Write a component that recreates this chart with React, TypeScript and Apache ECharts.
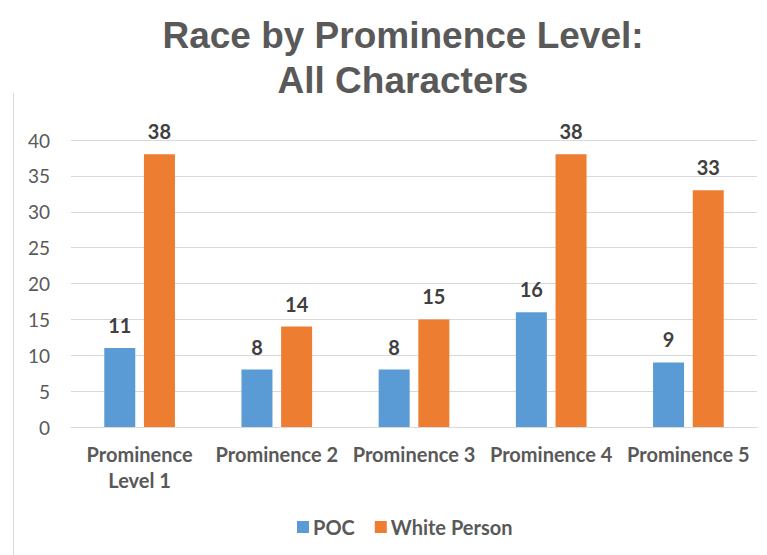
import React, { useEffect, useRef } from "react";
import * as echarts from "echarts";

const categories = ["Prominence\nLevel 1", "Prominence 2", "Prominence 3", "Prominence 4", "Prominence 5"];
const pocValues = [11, 8, 8, 16, 9];
const whiteValues = [38, 14, 15, 38, 33];
const seriesNames = ["POC", "White Person"];

export default function App() {
  const ref = useRef<HTMLDivElement>(null);
  useEffect(() => {
    if (!ref.current) return;
    const chart = echarts.init(ref.current, null, { renderer: "svg" });
    const labelStyle = {
      show: true,
      position: "top" as const,
      distance: 13,
      fontFamily: "Lato",
      fontWeight: "bold" as const,
      fontSize: 20,
      color: "#404040",
    };
    chart.setOption({
      animation: false,
      backgroundColor: "#ffffff",
      title: {
        text: "Race by Prominence Level:\nAll Characters",
        left: 398,
        top: 8,
        textAlign: "center",
        textStyle: {
          fontFamily: "Liberation Sans",
          fontWeight: "bold",
          fontSize: 37,
          lineHeight: 45,
          color: "#595959",
        },
      },
      graphic: [
        {
          type: "line",
          shape: { x1: 13.5, y1: 93, x2: 13.5, y2: 555 },
          style: { stroke: "#d9d9d9", lineWidth: 1 },
        },
      ],
      legend: {
        data: seriesNames,
        left: 292,
        top: 512,
        itemWidth: 12,
        itemHeight: 12,
        itemGap: 20,
        icon: "rect",
        textStyle: {
          fontFamily: "Lato",
          fontWeight: "bold",
          fontSize: 20,
          color: "#595959",
          padding: [0, 0, 0, -1],
        },
      },
      grid: { left: 71, right: 10, top: 140, bottom: 128 },
      xAxis: {
        type: "category",
        data: categories,
        axisLine: { lineStyle: { color: "#d9d9d9" } },
        axisTick: { show: false },
        axisLabel: {
          fontFamily: "Lato",
          fontWeight: "bold",
          fontSize: 20,
          lineHeight: 26,
          color: "#595959",
          margin: 14,
          interval: 0,
        },
      },
      yAxis: {
        type: "value",
        min: 0,
        max: 40,
        interval: 5,
        axisLine: { show: false },
        axisTick: { show: false },
        splitLine: { lineStyle: { color: "#d9d9d9" } },
        axisLabel: {
          fontFamily: "Lato",
          fontSize: 19,
          color: "#595959",
          margin: 21,
        },
      },
      series: [
        {
          name: seriesNames[0],
          type: "bar",
          data: pocValues,
          barWidth: 31,
          barGap: "28%",
          itemStyle: { color: "#5b9bd5" },
          label: labelStyle,
        },
        {
          name: seriesNames[1],
          type: "bar",
          data: whiteValues,
          barWidth: 31,
          barGap: "28%",
          itemStyle: { color: "#ed7d31" },
          label: labelStyle,
        },
      ],
    });
    return () => chart.dispose();
  }, []);
  return <div ref={ref} style={{ width: 767, height: 555, position: "absolute", left: 0, top: 0 }} />;
}
